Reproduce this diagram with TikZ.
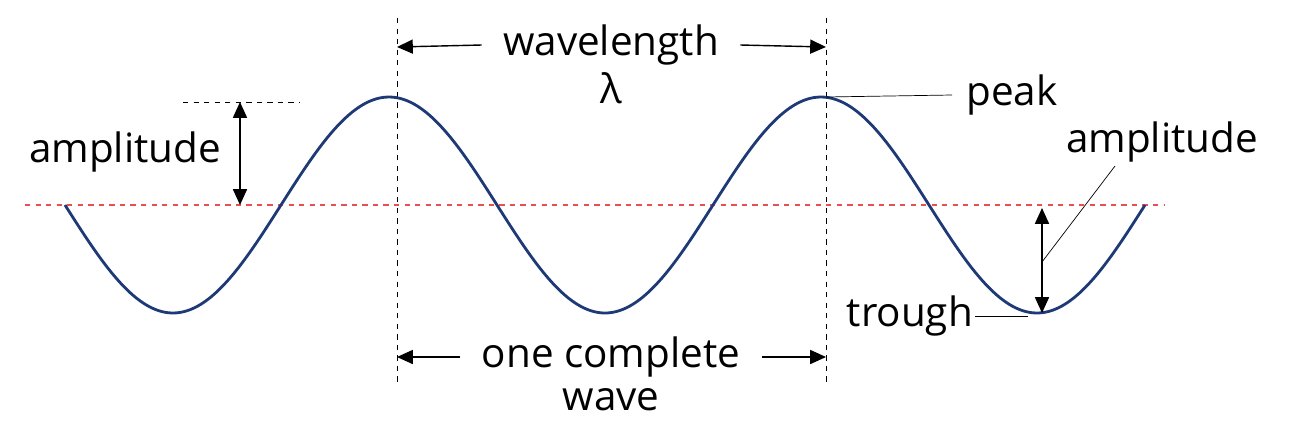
\documentclass[tikz,border=0pt]{standalone}
\usepackage{fontspec}
\setmainfont{Open Sans}
\usetikzlibrary{arrows.meta}
\definecolor{wavecol}{RGB}{30,58,118}
\definecolor{axiscol}{RGB}{232,80,80}
\tikzset{
  lbl/.style={font=\fontsize{23}{28}\selectfont, inner sep=1pt},
  dim/.style={thick, {Triangle[length=9pt,width=8pt]}-{Triangle[length=9pt,width=8pt]}},
  dimr/.style={thick, -{Triangle[length=9pt,width=8pt]}},
  guide/.style={thin, dashed, black},
  leader/.style={thin, black}
}
\begin{document}
\begin{tikzpicture}[x=0.02cm, y=-0.02cm]
  \useasboundingbox (0,0) rectangle (1296,437);

  % axis and guide lines
  \draw[axiscol, thick, dashed] (25,205) -- (1165,205);
  \draw[guide] (397,18) -- (397,382);
  \draw[guide] (826,18) -- (826,382);
  \draw[guide] (183,102) -- (300,102);

  % the wave
  \draw[wavecol, line width=1.6pt, domain=65:1145, samples=200, smooth]
    plot (\x, {205+108*sin(0.833333*(\x-65))});

  % named points
  \coordinate (ampTopL) at (240,102);
  \coordinate (ampBotL) at (240,205);
  \coordinate (peakpt) at (826,97);
  \coordinate (troughpt) at (1028,316);
  \coordinate (ampTopR) at (1042,208);
  \coordinate (ampBotR) at (1042,313);
  \coordinate (ampMidR) at (1042,262);
  \coordinate (wlL) at (397,47);
  \coordinate (wlR) at (826,47);
  \coordinate (owL) at (397,357);
  \coordinate (owR) at (826,357);

  % labels
  \node[lbl] (amplL) at (125,152) {amplitude};
  \node[lbl, inner xsep=12pt] (wavelength) at (611,45) {wavelength};
  \node[lbl] (lambda) at (611,88) {λ};
  \node[lbl, anchor=west, inner xsep=8pt] (peak) at (952,95) {peak};
  \node[lbl, anchor=east] (trough) at (975,316) {trough};
  \node[lbl] (amplR) at (1162,142) {amplitude};
  \node[lbl, inner xsep=12pt] (onecomplete) at (611,357) {one complete};
  \node[lbl] (wave) at (611,400) {wave};

  % dimensions
  \draw[dim] (ampTopL) -- (ampBotL);
  \draw[dim] (ampTopR) -- (ampBotR);
  \draw[dimr] (wavelength.west) -- (wlL);
  \draw[dimr] (wavelength.east) -- (wlR);
  \draw[dimr] (onecomplete.west) -- (owL);
  \draw[dimr] (onecomplete.east) -- (owR);

  % leaders
  \draw[leader] (peakpt) -- (peak.west);
  \draw[leader] (trough.east) -- (troughpt);
  \draw[leader] (ampMidR) -- (1115,166);
\end{tikzpicture}
\end{document}
